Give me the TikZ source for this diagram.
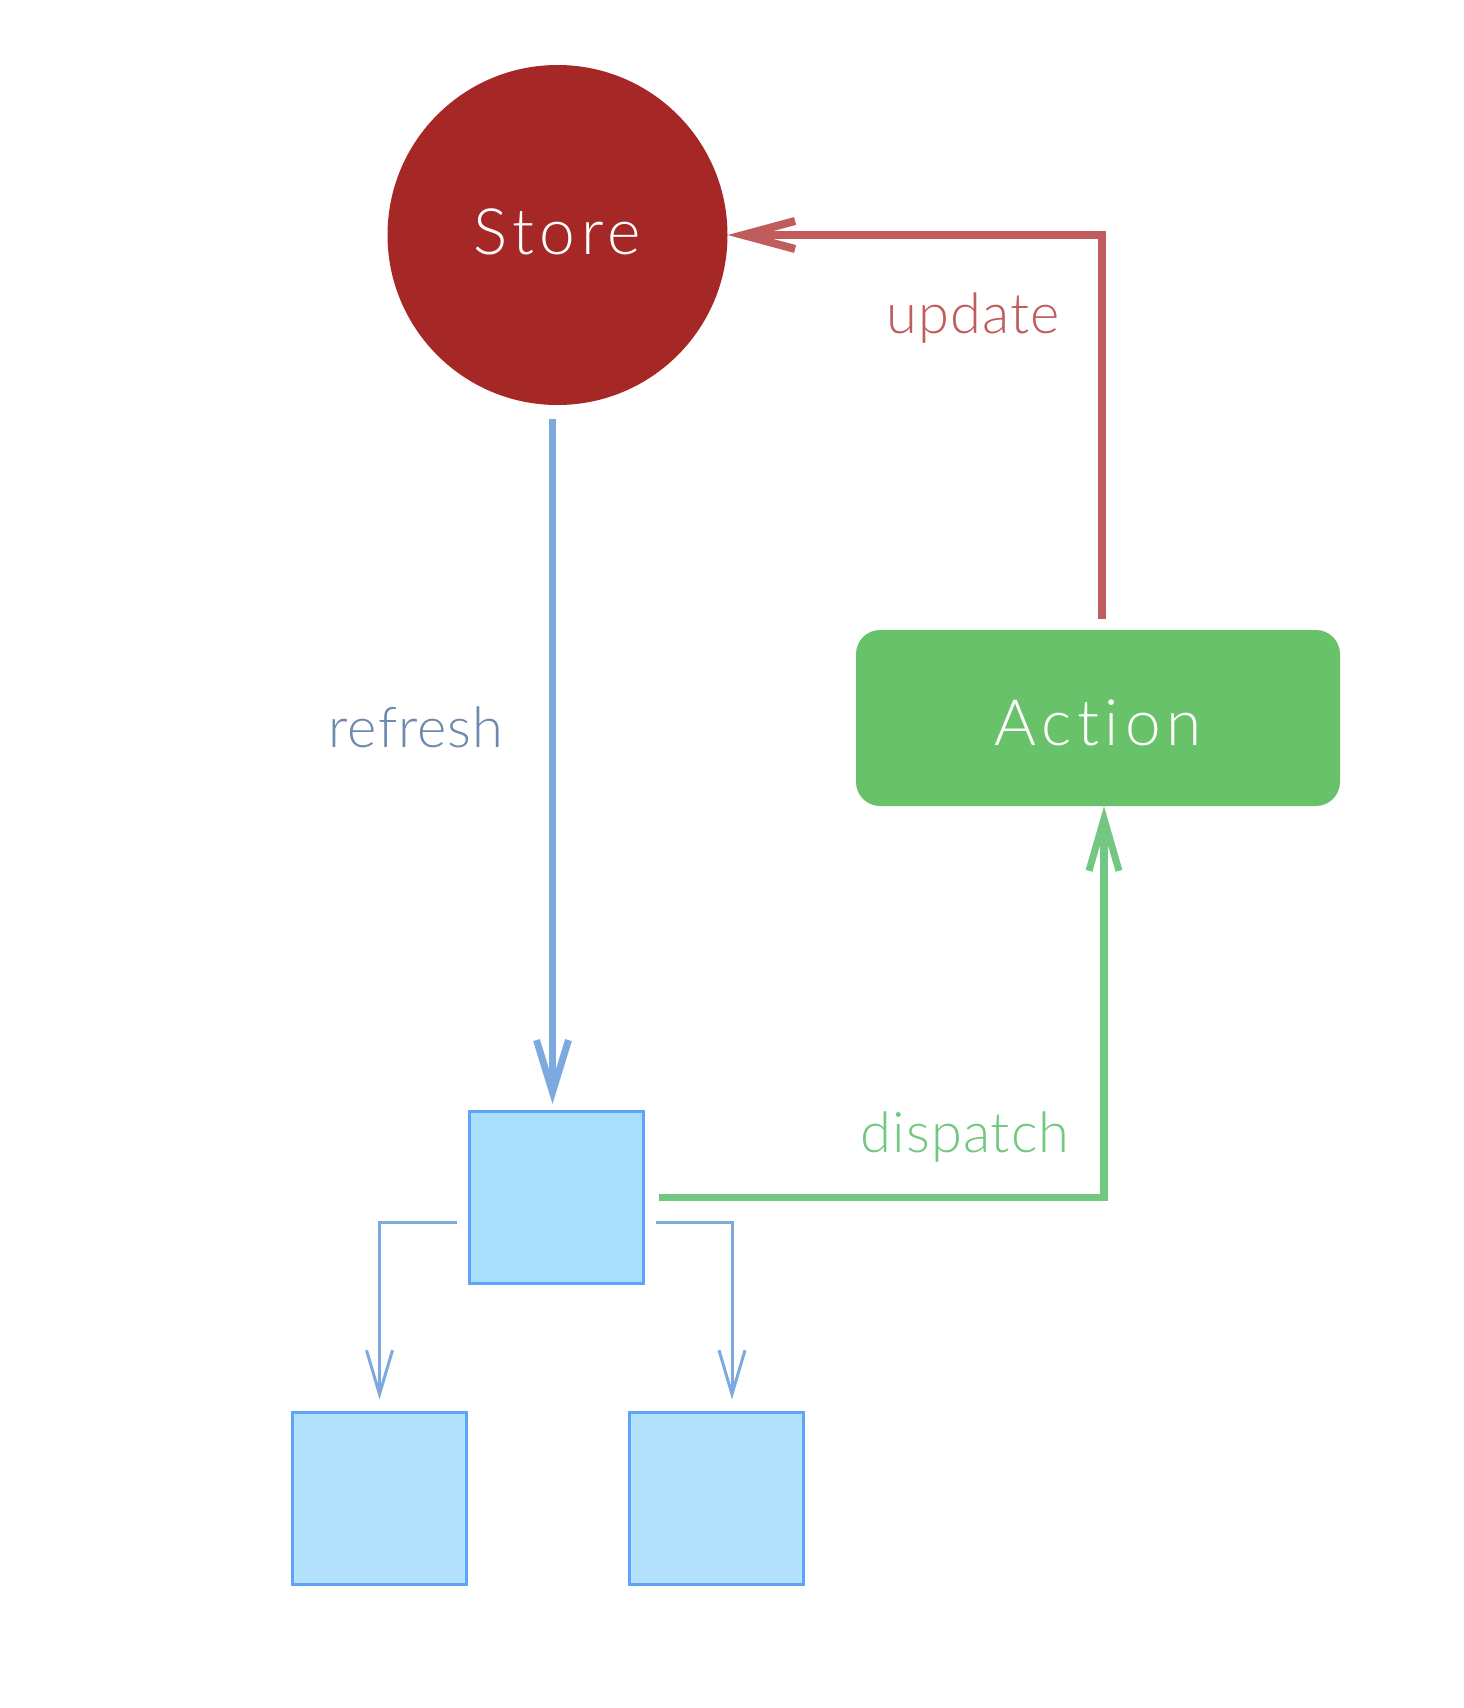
\documentclass[tikz,border=0pt]{standalone}
\usepackage{fontspec}
\setmainfont{Lato Light}[Ligatures=NoCommon]
\newfontfamily\widefont{Lato Light}[Ligatures=NoCommon, LetterSpace=9]
\newfontfamily\labelfont{Lato Light}[Ligatures=NoCommon, LetterSpace=2]
\usetikzlibrary{arrows.meta}
\definecolor{storered}{RGB}{166,40,38}
\definecolor{updatered}{RGB}{193,92,92}
\definecolor{actiongreen}{RGB}{104,194,106}
\definecolor{dispatchgreen}{RGB}{114,200,128}
\definecolor{refreshblue}{RGB}{125,170,222}
\definecolor{refreshtext}{RGB}{108,138,174}
\definecolor{boxfill}{RGB}{168,224,253}
\definecolor{childfill}{RGB}{179,227,252}
\definecolor{boxline}{RGB}{95,163,250}
\tikzset{
  bigtext/.style={font=\widefont\fontsize{64}{70}\selectfont},
  labeltext/.style={font=\labelfont\fontsize{56}{60}\selectfont},
  compbox/.style={rectangle, draw=boxline, line width=3pt, minimum width=174pt, minimum height=172pt, inner sep=0pt},
  thickarrow/.style={line width=7.5pt},
  thinarrow/.style={draw=refreshblue, line width=3pt, -{Straight Barb[length=44pt, width=26pt, line width=3pt]}},
}
\begin{document}
\begin{tikzpicture}[x=1pt, y=-1pt]
  \useasboundingbox (0,0) rectangle (1464,1708);
  % store and action
  \node[circle, fill=storered, minimum size=340pt, inner sep=0pt, text=white, bigtext, text height=46pt, text depth=6.6pt] (store) at (557.5,235) {Store};
  \node[rectangle, rounded corners=24pt, fill=actiongreen, minimum width=484pt, minimum height=176pt, text=white, bigtext, text height=55pt, text depth=0pt] (action) at (1098,718) {Action};
  % component tree
  \node[compbox, fill=boxfill] (comp) at (556,1197.5) {};
  \node[compbox, fill=childfill] (left) at (379.5,1498) {};
  \node[compbox, fill=childfill] (right) at (716,1498) {};
  % refresh
  \coordinate (rtop) at ([xshift=-5pt, yshift=-14pt]store.south);
  \draw[thickarrow, draw=refreshblue, shorten >=6pt, -{Straight Barb[length=52pt, width=32pt, line width=7pt]}]
    (rtop) -- (rtop |- comp.north);
  % update
  \draw[thickarrow, draw=updatered, -{Straight Barb[length=52pt, width=28pt, line width=8pt]}]
    ([xshift=4pt, yshift=11pt]action.north) |- (store.east);
  % dispatch
  \draw[thickarrow, draw=dispatchgreen, -{Straight Barb[length=52pt, width=30pt, line width=7pt]}]
    ([xshift=14pt]comp.east) -| ([xshift=6pt]action.south);
  % children
  \draw[thinarrow] ([xshift=-11pt, yshift=-24.5pt]comp.west) -| ([yshift=11pt]left.north);
  \draw[thinarrow] ([xshift=11pt, yshift=-24.5pt]comp.east) -| ([xshift=16pt, yshift=11pt]right.north);
  % labels
  \node[labeltext, text=updatered] (lupdate) at (973,318) {update};
  \node[labeltext, text=refreshtext] (lrefresh) at (416,727) {refresh};
  \node[labeltext, text=dispatchgreen] (ldispatch) at (965,1137) {dispatch};
\end{tikzpicture}
\end{document}
